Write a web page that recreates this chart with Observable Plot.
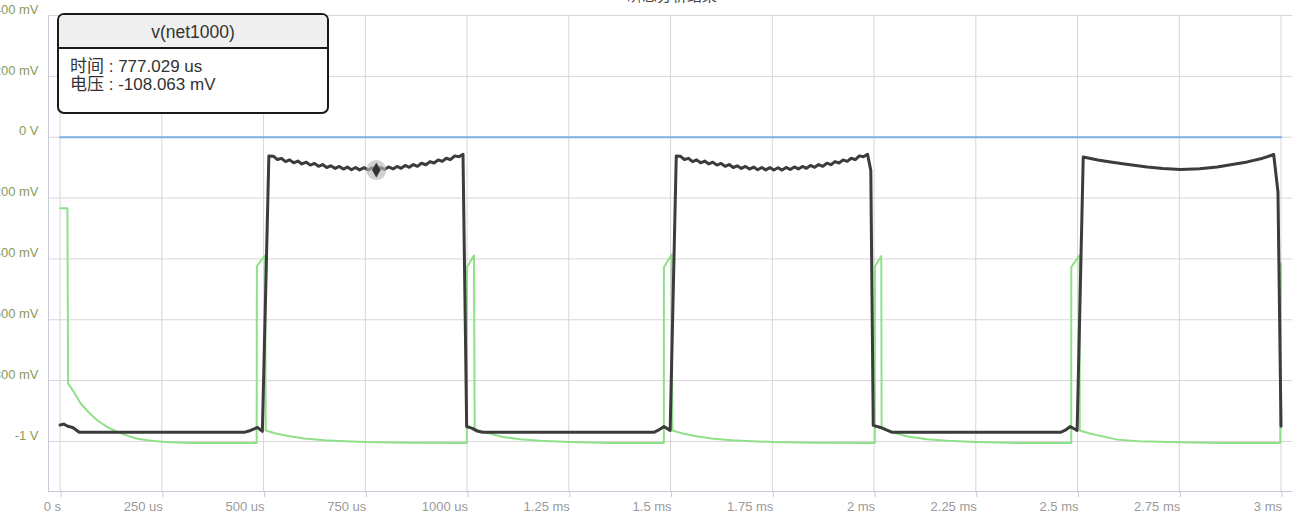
<!DOCTYPE html>
<html>
<head>
<meta charset="utf-8">
<script src="https://cdn.jsdelivr.net/npm/d3@7"></script>
<script src="https://cdn.jsdelivr.net/npm/@observablehq/plot@0.6"></script>
<style>
  body { margin: 0; background: #fff; }
  #wrap { position: relative; width: 1292px; height: 516px; overflow: hidden; font-family: "Liberation Sans", Arial, "Noto Sans CJK SC", sans-serif; }
  #title { position: absolute; left: 572px; width: 200px; top: -16px; text-align: center; font-size: 15px; color: #444; }
  #tip { position: absolute; left: 57px; top: 13px; width: 268px; height: 97px; border: 2px solid #1a1a1a; border-radius: 7px; background: #fff; overflow: hidden; color: #333; }
  #tip .hd { height: 32px; line-height: 34px; background: #efefef; border-bottom: 2px solid #1a1a1a; text-align: center; font-size: 17.5px; }
  #tip .bd { padding: 9px 0 0 11px; font-size: 17px; line-height: 18px; font-family: "Liberation Sans", Arial, "Noto Sans CJK SC", sans-serif; }
</style>
</head>
<body>
<div id="wrap">
  <div id="chart"></div>
  <div id="title">瞬态分析结果</div>
  <div id="tip">
    <div class="hd" id="tipTitle"></div>
    <div class="bd" id="tipBody"></div>
  </div>
</div>
<script>
// ---- axis ticks ----
const xTicks = [0, 0.25, 0.5, 0.75, 1, 1.25, 1.5, 1.75, 2, 2.25, 2.5, 2.75, 3]; // ms
const xTickLabels = ["0 s", "250 us", "500 us", "750 us", "1000 us", "1.25 ms", "1.5 ms", "1.75 ms", "2 ms", "2.25 ms", "2.5 ms", "2.75 ms", "3 ms"];
const yTicks = [0.4, 0.2, 0, -0.2, -0.4, -0.6, -0.8, -1]; // V
const yTickLabels = ["400 mV", "200 mV", "0 V", "-200 mV", "-400 mV", "-600 mV", "-800 mV", "-1 V"];
const xDomain = [-0.0285, 3.0282];
const yDomain = [-1.1645, 0.4];

// ---- series: [time (ms), voltage (V)] ----
const seriesBlue = [[0, 0], [3, 0]];

const seriesNet1000 = [
  [0.000,-0.946],[0.009,-0.943],[0.019,-0.950],[0.031,-0.954],[0.047,-0.970],[0.452,-0.970],[0.468,-0.964],[0.485,-0.954],[0.497,-0.967],
  [0.513,-0.0620],[0.524,-0.0623],[0.534,-0.0735],[0.544,-0.0696],[0.554,-0.0802],[0.564,-0.0745],[0.574,-0.0840],[0.584,-0.0783],
  [0.594,-0.0878],[0.605,-0.0821],[0.615,-0.0917],[0.625,-0.0861],[0.635,-0.0956],[0.645,-0.0900],[0.655,-0.0996],[0.665,-0.0940],
  [0.676,-0.1026],[0.686,-0.0961],[0.696,-0.1048],[0.706,-0.0983],[0.716,-0.1069],[0.726,-0.0995],[0.736,-0.1074],[0.747,-0.1001],
  [0.757,-0.1079],[0.767,-0.1006],[0.777029,-0.108063],[0.787,-0.0994],[0.797,-0.1061],[0.807,-0.0977],[0.818,-0.1044],[0.828,-0.0960],
  [0.838,-0.1021],[0.848,-0.0929],[0.858,-0.0990],[0.868,-0.0898],[0.878,-0.0958],[0.888,-0.0855],[0.899,-0.0904],[0.909,-0.0801],
  [0.919,-0.0849],[0.929,-0.0746],[0.939,-0.0794],[0.949,-0.0691],[0.959,-0.0739],[0.970,-0.0614],[0.980,-0.0641],[0.990,-0.0560],
  [0.999,-0.951],[1.013,-0.957],[1.025,-0.966],[1.038,-0.970],[1.459,-0.970],[1.470,-0.963],[1.484,-0.951],[1.499,-0.964],
  [1.514,-0.0620],[1.524,-0.0623],[1.534,-0.0735],[1.544,-0.0696],[1.554,-0.0802],[1.564,-0.0745],[1.574,-0.0840],[1.584,-0.0783],
  [1.594,-0.0878],[1.604,-0.0821],[1.614,-0.0917],[1.624,-0.0861],[1.634,-0.0956],[1.644,-0.0900],[1.654,-0.0996],[1.664,-0.0940],
  [1.674,-0.1026],[1.684,-0.0961],[1.694,-0.1048],[1.704,-0.0983],[1.714,-0.1069],[1.724,-0.0995],[1.734,-0.1074],[1.744,-0.1001],
  [1.754,-0.1079],[1.764,-0.1006],[1.774,-0.1081],[1.784,-0.0994],[1.794,-0.1061],[1.804,-0.0977],[1.814,-0.1044],[1.824,-0.0960],
  [1.834,-0.1021],[1.844,-0.0929],[1.854,-0.0990],[1.864,-0.0898],[1.874,-0.0958],[1.884,-0.0855],[1.894,-0.0904],[1.904,-0.0801],
  [1.914,-0.0849],[1.924,-0.0746],[1.934,-0.0794],[1.944,-0.0691],[1.954,-0.0739],[1.964,-0.0614],[1.974,-0.0641],[1.984,-0.0560],
  [1.992,-0.109],[1.998,-0.947],[2.016,-0.954],[2.045,-0.970],[2.458,-0.970],[2.470,-0.963],[2.482,-0.951],[2.499,-0.964],
  [2.514,-0.0648],[2.550,-0.0750],[2.581,-0.0812],[2.620,-0.0890],[2.671,-0.0977],[2.710,-0.1030],[2.753,-0.1063],[2.800,-0.1040],
  [2.843,-0.0977],[2.880,-0.0900],[2.917,-0.0812],[2.950,-0.0710],[2.982,-0.0569],[2.9925,-0.180],[3.000,-0.950]
];

const seriesGreen = [
  [0,-0.2336],[0.018,-0.2336],[0.0197,-0.809],[0.035,-0.840],[0.051,-0.876],[0.070,-0.904],[0.092,-0.931],[0.115,-0.952],
  [0.141,-0.969],[0.165,-0.981],[0.190,-0.991],[0.220,-0.997],[0.256,-1.002],[0.320,-1.005],[0.483,-1.005],
  [0.4835,-0.424],[0.5036,-0.388],[0.5053,-0.964],[0.530,-0.974],[0.560,-0.982],[0.600,-0.990],[0.650,-0.996],[0.700,-0.999],
  [0.750,-1.002],[0.850,-1.004],[0.9995,-1.005],
  [1.000,-0.427],[1.017,-0.388],[1.0187,-0.958],[1.040,-0.968],[1.0826,-0.984],[1.130,-0.993],[1.180,-0.998],[1.250,-1.002],
  [1.350,-1.005],[1.4835,-1.005],
  [1.4837,-0.427],[1.5027,-0.386],[1.5044,-0.964],[1.530,-0.974],[1.560,-0.982],[1.600,-0.990],[1.650,-0.996],[1.700,-0.999],
  [1.750,-1.002],[1.850,-1.004],[2.002,-1.005],
  [2.0021,-0.424],[2.0178,-0.391],[2.0186,-0.958],[2.040,-0.968],[2.083,-0.984],[2.130,-0.993],[2.180,-0.998],[2.250,-1.002],
  [2.350,-1.005],[2.4845,-1.005],
  [2.4846,-0.427],[2.505,-0.388],[2.5055,-0.964],[2.530,-0.974],[2.5975,-0.994],[2.650,-0.999],[2.750,-1.003],[2.850,-1.005],
  [2.998,-1.005],[3.000,-0.415]
];

// ---- tooltip content ----
const tipName = "v(net1000)";
const tipTime = 0.777029;   // ms
const tipVolt = -0.108063;  // V
const tipTimeText = "777.029 us";
const tipVoltText = "-108.063 mV";

const toObj = (arr) => arr.map(([t, v]) => ({t, v}));

const chart = Plot.plot({
  width: 1292,
  height: 516,
  marginLeft: 48,
  marginRight: 0,
  marginTop: 15,
  marginBottom: 25,
  style: { fontFamily: "Liberation Sans, Arial, sans-serif", fontSize: "13px", background: "white" },
  x: { domain: xDomain, axis: null, label: null },
  y: { domain: yDomain, axis: null, label: null },
  marks: [
    Plot.gridX(xTicks, { stroke: "#d6d6d6", strokeOpacity: 1 }),
    Plot.gridY(yTicks, { stroke: "#d6d6d6", strokeOpacity: 1 }),
    Plot.ruleX([xDomain[0]], { stroke: "#c3ccd8" }),
    Plot.ruleY([yDomain[0]], { stroke: "#c3ccd8" }),
    Plot.axisX(xTicks, {
      label: null,
      tickFormat: (d) => xTickLabels[xTicks.indexOf(d)],
      tickSize: 6, tickPadding: 4, textAnchor: "end", dx: 1,
      stroke: "#c3ccd8", fill: "#9a9a9a", fontSize: 13
    }),
    Plot.axisY(yTicks, {
      label: null,
      tickFormat: (d) => yTickLabels[yTicks.indexOf(d)],
      tickSize: 0, tickPadding: 10, dy: -6,
      fill: "#8a9a5c", fontSize: 13
    }),
    Plot.line(toObj(seriesBlue), { x: "t", y: "v", stroke: "#7eb0e2", strokeWidth: 2 }),
    Plot.line(toObj(seriesGreen), { x: "t", y: "v", stroke: "#90e08a", strokeWidth: 2 }),
    Plot.line(toObj(seriesNet1000), { x: "t", y: "v", stroke: "#3c3c3c", strokeWidth: 3 }),
    Plot.dot([{t: tipTime, v: tipVolt}], { x: "t", y: "v", r: 10, fill: "#b8b8b8", fillOpacity: 0.65 }),
    Plot.dot([{t: tipTime, v: tipVolt}], { x: "t", y: "v", r: 4.5, symbol: "diamond", fill: "#333" })
  ]
});
document.getElementById("chart").appendChild(chart);
document.getElementById("tipTitle").textContent = tipName;
document.getElementById("tipBody").innerHTML = "时间 : " + tipTimeText + "<br>电压 : " + tipVoltText;
</script>
</body>
</html>
